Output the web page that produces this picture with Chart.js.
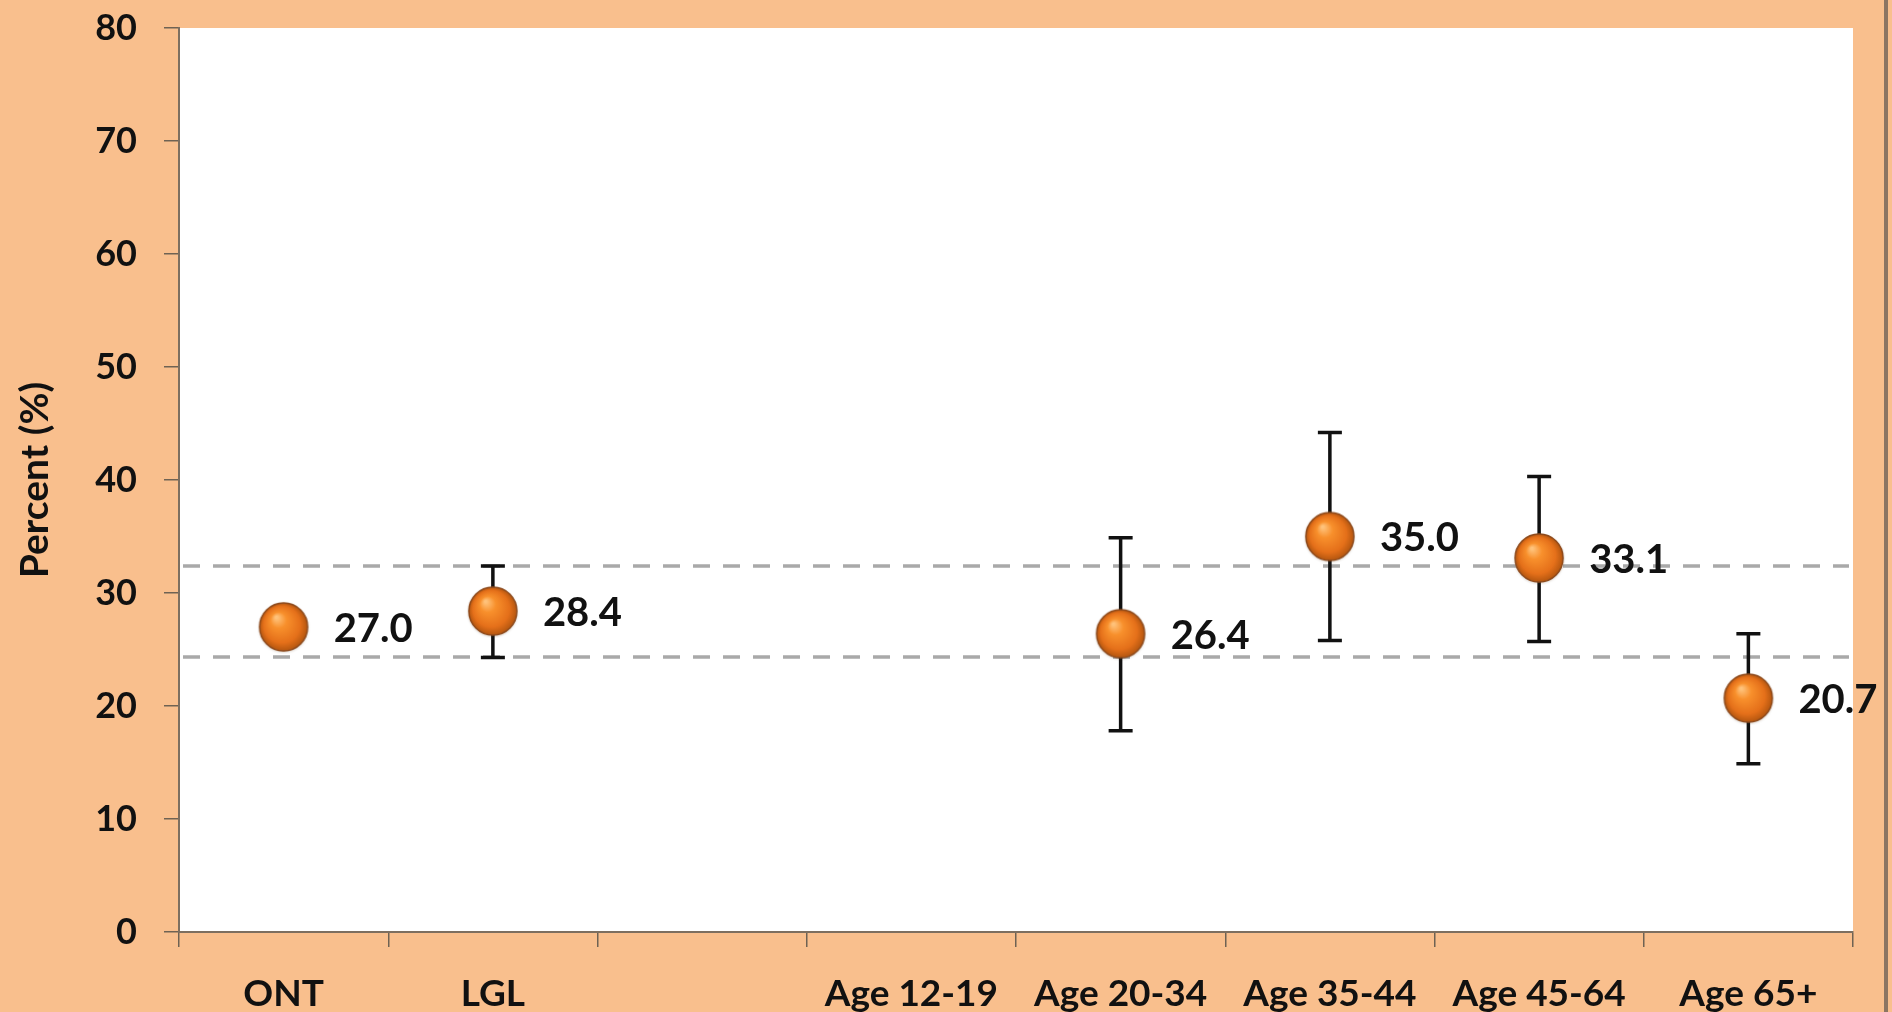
<!DOCTYPE html>
<html>
<head>
<meta charset="utf-8">
<script src="https://cdn.jsdelivr.net/npm/chart.js@4.4.1/dist/chart.umd.min.js"></script>
<style>
  html, body { margin: 0; padding: 0; background: #f9bf8d; overflow: hidden; }
  #wrap { position: relative; width: 1892px; height: 1012px; }
  #edge { position: absolute; left: 1884px; top: 0; width: 4px; height: 1012px; background: #8c7562; }
</style>
</head>
<body>
<div id="wrap">
  <canvas id="chart"></canvas>
  <div id="edge"></div>
</div>
<script>
// categories and values
const labels = ['ONT', 'LGL', '', 'Age 12-19', 'Age 20-34', 'Age 35-44', 'Age 45-64', 'Age 65+'];
const values = [27.0, 28.4, null, null, 26.4, 35.0, 33.1, 20.7];
const lowerCI = [null, 24.3, null, null, 17.8, 25.8, 25.7, 14.9];
const upperCI = [null, 32.4, null, null, 34.9, 44.2, 40.3, 26.4];
const refLines = [32.4, 24.3];   // LGL confidence band, dashed
const yTicks = [0, 80, 10];      // min, max, step

const fontFamily = 'Lato, "Open Sans", sans-serif';

// shiny orange ball used as the point marker
function makeBall(r) {
    const size = r * 2 + 6;
    const c = document.createElement('canvas');
    c.width = size; c.height = size;
    const ctx = c.getContext('2d');
    const cx = size / 2, cy = size / 2;
    ctx.shadowColor = 'rgba(90,60,30,0.35)';
    ctx.shadowBlur = 3;
    ctx.shadowOffsetY = 1;
    const g = ctx.createRadialGradient(cx - r * 0.3, cy - r * 0.4, r * 0.05, cx, cy, r);
    g.addColorStop(0, '#ffc27a');
    g.addColorStop(0.3, '#f8902c');
    g.addColorStop(0.75, '#e5701a');
    g.addColorStop(1, '#b4560f');
    ctx.beginPath();
    ctx.arc(cx, cy, r, 0, Math.PI * 2);
    ctx.fillStyle = g;
    ctx.fill();
    ctx.shadowColor = 'transparent';
    ctx.lineWidth = 1.5;
    ctx.strokeStyle = '#8e4a1c';
    ctx.stroke();
    return c;
}
const ball = makeBall(24);

// white plot background
const plotBg = {
    id: 'plotBg',
    beforeDraw(chart) {
        const {ctx, chartArea: a} = chart;
        ctx.save();
        ctx.fillStyle = '#ffffff';
        ctx.fillRect(a.left, a.top, a.right - a.left, a.bottom - a.top);
        ctx.restore();
    }
};

// dashed reference lines + error bars, under the points
const errorBars = {
    id: 'errorBars',
    beforeDatasetsDraw(chart) {
        const {ctx, chartArea: a} = chart;
        const y = chart.scales.y;
        const meta = chart.getDatasetMeta(0);
        ctx.save();
        ctx.strokeStyle = '#a9a9a9';
        ctx.lineWidth = 3.5;
        ctx.setLineDash([17, 13]);
        refLines.forEach(v => {
            const py = Math.round(y.getPixelForValue(v));
            ctx.beginPath();
            ctx.moveTo(a.left + 4, py);
            ctx.lineTo(a.right - 4, py);
            ctx.stroke();
        });
        ctx.setLineDash([]);
        ctx.strokeStyle = '#111111';
        ctx.lineWidth = 3.5;
        meta.data.forEach((pt, i) => {
            if (lowerCI[i] == null || upperCI[i] == null) return;
            const x = pt.x;
            const y1 = y.getPixelForValue(upperCI[i]);
            const y2 = y.getPixelForValue(lowerCI[i]);
            ctx.beginPath();
            ctx.moveTo(x, y1); ctx.lineTo(x, y2);
            ctx.moveTo(x - 12, y1); ctx.lineTo(x + 12, y1);
            ctx.moveTo(x - 12, y2); ctx.lineTo(x + 12, y2);
            ctx.stroke();
        });
        ctx.restore();
    }
};

// value labels to the right of each point
const valueLabels = {
    id: 'valueLabels',
    afterDatasetsDraw(chart) {
        const {ctx} = chart;
        const meta = chart.getDatasetMeta(0);
        ctx.save();
        ctx.font = 'bold 40px ' + fontFamily;
        ctx.fillStyle = '#111111';
        ctx.textAlign = 'left';
        ctx.textBaseline = 'middle';
        meta.data.forEach((pt, i) => {
            if (values[i] == null) return;
            ctx.fillText(values[i].toFixed(1), pt.x + 50, pt.y + 2);
        });
        ctx.restore();
    }
};

new Chart(document.getElementById('chart'), {
    type: 'line',
    data: {
        labels: labels,
        datasets: [{
            data: values,
            showLine: false,
            pointStyle: ball,
            pointRadius: 24,
            pointHoverRadius: 24,
            spanGaps: false
        }]
    },
    options: {
        responsive: true,
        maintainAspectRatio: false,
        animation: false,
        layout: { autoPadding: false, padding: { left: 0, right: 39, top: 28, bottom: 0 } },
        plugins: {
            legend: { display: false },
            tooltip: { enabled: false }
        },
        scales: {
            x: {
                offset: true,
                afterFit(scale) { scale.height = 80; },
                grid: {
                    offset: true,
                    drawOnChartArea: false,
                    tickLength: 15,
                    color: '#6f6253',
                    lineWidth: 1.5
                },
                border: { color: '#7d6f60', width: 2 },
                ticks: {
                    padding: 25,
                    color: '#111111',
                    maxRotation: 0,
                    autoSkip: false,
                    font: { family: fontFamily, size: 37, weight: 'bold' }
                }
            },
            y: {
                min: yTicks[0],
                max: yTicks[1],
                afterFit(scale) {
                    scale.width = 179;
                    scale.paddingTop = 0;
                    scale.paddingBottom = 0;
                },
                grid: {
                    drawOnChartArea: false,
                    tickLength: 15,
                    color: '#6f6253',
                    lineWidth: 1.5
                },
                border: { color: '#7d6f60', width: 2 },
                ticks: {
                    stepSize: yTicks[2],
                    padding: 27,
                    color: '#111111',
                    font: { family: fontFamily, size: 36, weight: 'bold' }
                },
                title: {
                    display: true,
                    text: 'Percent (%)',
                    color: '#111111',
                    padding: { top: 12, bottom: 0 },
                    font: { family: fontFamily, size: 39, weight: 'bold' }
                }
            }
        }
    },
    plugins: [plotBg, errorBars, valueLabels]
});
</script>
</body>
</html>
